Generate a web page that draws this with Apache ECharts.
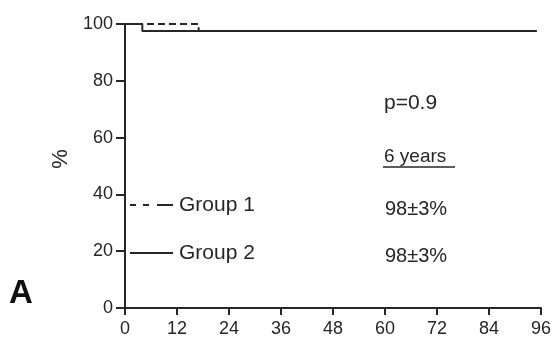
<!DOCTYPE html>
<html><head><meta charset="utf-8">
<script src="https://cdn.jsdelivr.net/npm/echarts@6/dist/echarts.min.js"></script>
<style>html,body{margin:0;padding:0;background:#fff}#c{width:556px;height:338px}</style>
</head><body><div id="c"></div>
<script>
const xTicks = [0, 12, 24, 36, 48, 60, 72, 84, 96];
const yTicks = [0, 20, 40, 60, 80, 100];
const group1Months = [0, 17, 95];
const group1Surv = [100, 97.5, 97.5];
const group2Months = [0, 4, 95];
const group2Surv = [100, 97.5, 97.5];
const seriesNames = ['Group 1', 'Group 2'];
const pText = 'p=0.9';
const headText = '6 years';
const rates = ['98±3%', '98±3%'];

const F = 'Liberation Sans, Arial, sans-serif';
const C = '#262626';
const chart = echarts.init(document.getElementById('c'), null, {renderer: 'canvas'});
const pair = (xs, ys) => xs.map((x, i) => [x, ys[i]]);
chart.setOption({
  animation: false,
  grid: {left: 125, right: 15, top: 24, bottom: 30, containLabel: false},
  xAxis: {type: 'value', min: xTicks[0], max: xTicks[xTicks.length-1], interval: 12,
    axisLine: {lineStyle: {color: C, width: 2}},
    axisTick: {length: 7, lineStyle: {color: C, width: 2}},
    axisLabel: {color: C, fontFamily: F, fontSize: 18, margin: 12},
    splitLine: {show: false}},
  yAxis: {type: 'value', min: yTicks[0], max: yTicks[yTicks.length-1], interval: 20,
    axisLine: {show: true, lineStyle: {color: C, width: 2}},
    axisTick: {show: true, length: 9, lineStyle: {color: C, width: 2}},
    axisLabel: {color: C, fontFamily: F, fontSize: 18, margin: 12},
    splitLine: {show: false}},
  series: [
    {name: seriesNames[0], type: 'line', step: 'end', symbol: 'none', data: pair(group1Months, group1Surv),
      lineStyle: {color: C, width: 2, type: [7, 4]}, itemStyle: {color: C}},
    {name: seriesNames[1], type: 'line', step: 'end', symbol: 'none', data: pair(group2Months, group2Surv),
      lineStyle: {color: C, width: 2}, itemStyle: {color: C}}
  ],
  graphic: [
    {type: 'text', x: 61, y: 159, rotation: Math.PI / 2,
      style: {text: '%', fill: C, font: '22px ' + F, align: 'center', verticalAlign: 'middle'}},
    {type: 'line', shape: {x1: 130, y1: 205, x2: 136, y2: 205}, style: {stroke: C, lineWidth: 2}},
    {type: 'line', shape: {x1: 143, y1: 205, x2: 149, y2: 205}, style: {stroke: C, lineWidth: 2}},
    {type: 'line', shape: {x1: 157, y1: 205, x2: 173, y2: 205}, style: {stroke: C, lineWidth: 2}},
    {type: 'text', x: 179, y: 205, style: {text: seriesNames[0], fill: C, font: '21px ' + F, verticalAlign: 'middle'}},
    {type: 'line', shape: {x1: 130, y1: 253, x2: 173, y2: 253}, style: {stroke: C, lineWidth: 2}},
    {type: 'text', x: 179, y: 253, style: {text: seriesNames[1], fill: C, font: '21px ' + F, verticalAlign: 'middle'}},
    {type: 'text', x: 384, y: 103, style: {text: pText, fill: C, font: '21px ' + F, verticalAlign: 'middle'}},
    {type: 'text', x: 384, y: 157, style: {text: headText, fill: C, font: '19px ' + F, verticalAlign: 'middle'}},
    {type: 'line', shape: {x1: 383, y1: 167, x2: 455, y2: 167}, style: {stroke: C, lineWidth: 1.5}},
    {type: 'text', x: 385, y: 209, style: {text: rates[0], fill: C, font: '20px ' + F, verticalAlign: 'middle'}},
    {type: 'text', x: 385, y: 256, style: {text: rates[1], fill: C, font: '20px ' + F, verticalAlign: 'middle'}},
    {type: 'text', x: 9, y: 294, style: {text: 'A', fill: '#111', font: 'bold 33px ' + F, verticalAlign: 'middle'}}
  ]
});
</script></body></html>
